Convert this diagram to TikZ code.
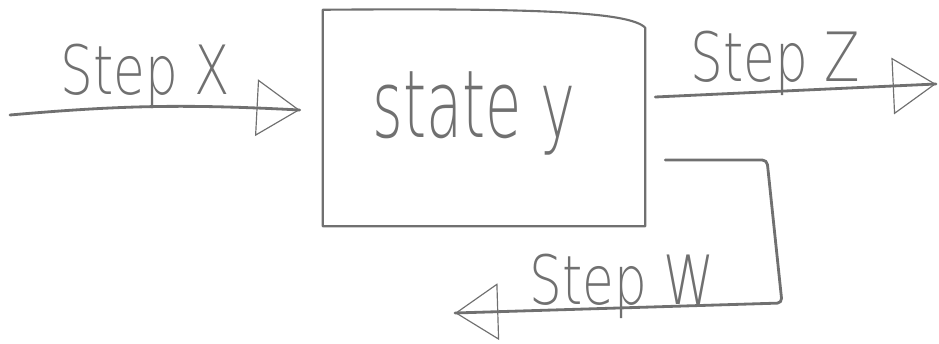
\documentclass[tikz,border=0pt]{standalone}
\usepackage{fontspec}
\newfontfamily\handfont{DejaVu Sans ExtraLight}
\usetikzlibrary{arrows.meta,positioning,calc,decorations.markings}
\definecolor{pencil}{HTML}{707070}
\newcommand\squeeze[2]{\scalebox{#1}[1]{#2}}

\begin{document}
\begin{tikzpicture}[x=0.03cm,y=-0.03cm,
   line/.style={draw=pencil,line width=2.4pt,line cap=round,line join=round},
   flow/.style={line,postaction={decorate},
     decoration={markings,mark=at position 1 with {\arrow{Triangle[open,length=1.3cm,width=1.7cm,line width=1pt]}}}},
   steplabel/.style={text=pencil,font=\handfont\fontsize{58}{58}\selectfont,anchor=base,inner sep=0pt},
   statebox/.style={minimum width=9.66cm,minimum height=6.48cm,inner sep=0pt}]
  \useasboundingbox (0,0) rectangle (939,344);
  % the state
  \node[statebox] (state) at (484,118) {};
  \draw[line,line width=1.8pt] (state.south west) -- (state.north west)
     .. controls (540,8) and (630,12) .. ($(state.north east)+(0,18)$)
     -- (state.south east) -- cycle;
  \node[text=pencil,font=\handfont\fontsize{80}{80}\selectfont,anchor=base,inner sep=0pt] (statey) at (474,138) {\squeeze{0.63}{state y}};
  % incoming step
  \coordinate (xin) at (10,115);
  \draw[flow] (xin) to[bend left=4] ([shift={(-23,-8)}]state.west);
  \node[steplabel] (stepx) at (145,95) {\squeeze{0.76}{Step X}};
  % outgoing step
  \coordinate (zout) at (936,84);
  \draw[flow] ([shift={(10,-21)}]state.east) -- (zout);
  \node[steplabel] (stepz) at (775,82) {\squeeze{0.76}{Step Z}};
  % step back round
  \coordinate (wturn1) at (767,160);
  \coordinate (wturn2) at (782,303);
  \coordinate (wout) at (455,313);
  \draw[flow,rounded corners=4pt] ([shift={(20,42)}]state.east) -- (wturn1) -- (wturn2) -- (wout);
  \node[steplabel] (stepw) at (622,305) {\squeeze{0.76}{Step W}};
\end{tikzpicture}
\end{document}
